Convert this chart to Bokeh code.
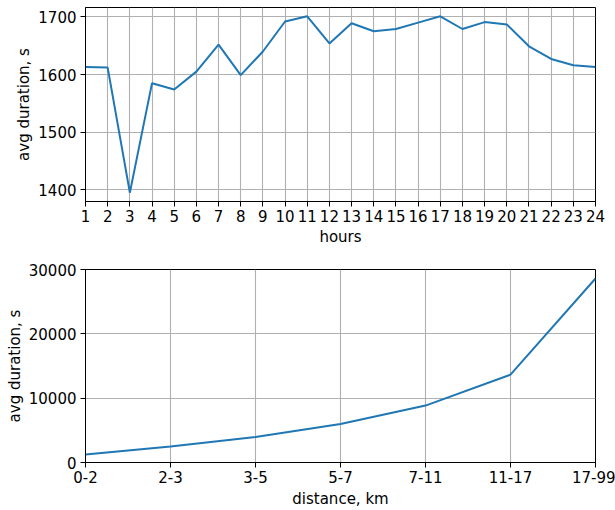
from bokeh.plotting import figure
from bokeh.layouts import column
from bokeh.models import Range1d, FixedTicker
from bokeh.embed import file_html
from bokeh.resources import INLINE

# ---- data ----
hours = list(range(1, 25))
hour_duration = [1613, 1612, 1395, 1585, 1574, 1605, 1652, 1599, 1640, 1692,
                 1701, 1654, 1689, 1675, 1679, 1690, 1701, 1679, 1691, 1687,
                 1649, 1627, 1616, 1613]
hour_yticks = [1400, 1500, 1600, 1700]

distance_bins = ["0-2", "2-3", "3-5", "5-7", "7-11", "11-17", "17-99"]
distance_duration = [1250, 2500, 3950, 6000, 8850, 13650, 28600]
distance_yticks = [0, 10000, 20000, 30000]

FONT = "DejaVu Sans"
FONT_SIZE = "15px"
LINE_COLOR = "#1f77b4"


def style(p):
    p.background_fill_color = "white"
    p.border_fill_color = "white"
    p.outline_line_color = "black"
    p.outline_line_width = 1
    for ax in (p.xaxis[0], p.yaxis[0]):
        ax.axis_line_color = "black"
        ax.axis_line_width = 1
        ax.major_tick_line_color = "black"
        ax.major_tick_line_width = 1
        ax.major_tick_out = 5
        ax.major_tick_in = 0
        ax.minor_tick_line_color = None
        ax.major_label_text_font = FONT
        ax.major_label_text_font_size = FONT_SIZE
        ax.major_label_text_color = "black"
        ax.axis_label_text_font = FONT
        ax.axis_label_text_font_size = FONT_SIZE
        ax.axis_label_text_font_style = "normal"
        ax.axis_label_text_color = "black"
    p.yaxis[0].major_label_standoff = 4
    p.yaxis[0].axis_label_standoff = 2
    p.xaxis[0].major_label_standoff = 3
    p.xaxis[0].axis_label_standoff = 3
    for g in (p.xgrid[0], p.ygrid[0]):
        g.grid_line_color = "#b0b0b0"
        g.grid_line_width = 1.1


# ---- top: by hour ----
p1 = figure(width=615, height=248, output_backend="svg",
            toolbar_location=None, x_range=Range1d(1, 24),
            y_range=Range1d(1379.7, 1716.3),
            min_border_left=85, min_border_right=20, min_border_top=7,
            min_border_bottom=47)
p1.line(hours, hour_duration, line_color=LINE_COLOR, line_width=2)
p1.xaxis.ticker = FixedTicker(ticks=hours)
p1.yaxis.ticker = FixedTicker(ticks=hour_yticks)
p1.xaxis.axis_label = "hours"
p1.yaxis.axis_label = "avg duration, s"
style(p1)

# ---- bottom: by distance ----
idx = list(range(len(distance_bins)))
p2 = figure(width=615, height=262, output_backend="svg",
            toolbar_location=None, x_range=Range1d(0, len(distance_bins) - 1),
            y_range=Range1d(0, 30000),
            min_border_left=85, min_border_right=20, min_border_top=21,
            min_border_bottom=48)
p2.line(idx, distance_duration, line_color=LINE_COLOR, line_width=2)
p2.xaxis.ticker = FixedTicker(ticks=idx)
p2.xaxis.major_label_overrides = {i: lab for i, lab in zip(idx, distance_bins)}
p2.yaxis.ticker = FixedTicker(ticks=distance_yticks)
p2.xaxis.axis_label = "distance, km"
p2.yaxis.axis_label = "avg duration, s"
style(p2)
p2.xaxis[0].axis_label_standoff = 4

layout = column(p1, p2, spacing=0)
open("out.html", "w").write(file_html(layout, INLINE))
